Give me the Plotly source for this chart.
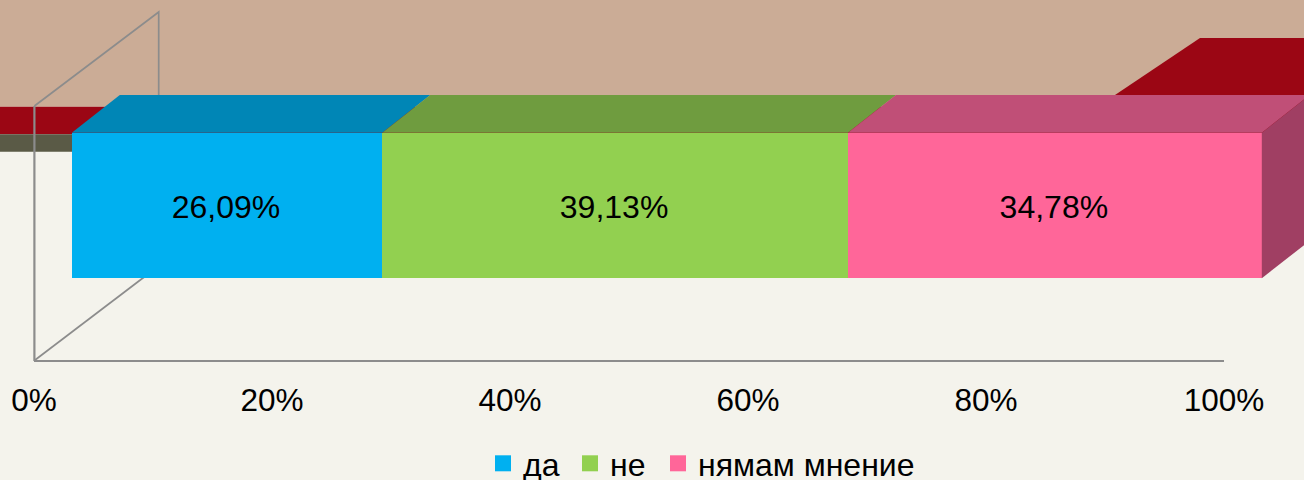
import plotly.graph_objects as go

categories = ["да", "не", "нямам мнение"]
values = [26.09, 39.13, 34.78]
labels = ["26,09%", "39,13%", "34,78%"]
tick_values = [0, 20, 40, 60, 80, 100]
tick_labels = ["0%", "20%", "40%", "60%", "80%", "100%"]
front_colors = ["#00B0F0", "#92D050", "#FF6699"]
top_colors = ["#0086B6", "#6F9C3F", "#C04F77"]
side_color = "#A03F63"

W, H = 1304, 480
FONT = "Liberation Sans, Arial, sans-serif"
CREAM, TAN, RED, OLIVE, WALL = "#F4F3EC", "#CBAC96", "#9B0614", "#5A5A46", "#8C8C8C"

# pixel scale of the value axis: 100% spans 1190 px; the bars sit 38 px right of the axis
PX_PER_PCT = 1190 / 100
BAR_PX0 = 71.8
BAR_PX_H = 145.6
BAR_CY = 205.5
DX = 48 / PX_PER_PCT   # depth of the 3D box in axis units
DY = 37.7 / BAR_PX_H
LABEL_DX = -1 / PX_PER_PCT
LABEL_DY = -4 / BAR_PX_H
LEGEND_PX = [483, 570, 658]


def px(x):
    return x / W


def py(y):
    return 1 - y / H


def poly(points, fill):
    path = "M" + " L".join(f"{px(x):.5f},{py(y):.5f}" for x, y in points) + " Z"
    return dict(type="path", xref="paper", yref="paper", path=path,
                fillcolor=fill, line=dict(width=0), layer="below")


def seg(points, width=1.7):
    path = "M" + " L".join(f"{px(x):.5f},{py(y):.5f}" for x, y in points)
    return dict(type="path", xref="paper", yref="paper", path=path,
                line=dict(color=WALL, width=width), layer="below")


shapes = [
    poly([(0, 0), (W, 0), (W, 106.7), (0, 106.7)], TAN),
    poly([(0, 106.7), (W, 106.7), (W, 134.3), (0, 134.3)], RED),
    poly([(0, 134.3), (W, 134.3), (W, 151.7), (0, 151.7)], OLIVE),
    poly([(1115, 95), (1200, 38), (W, 38), (W, 107), (1115, 107)], RED),
    seg([(34.4, 361), (34.4, 106)], width=2.2),
    seg([(34.4, 106), (158.7, 12), (158.7, 100)]),
    seg([(34.4, 360.5), (158.7, 266)]),
]

fig = go.Figure()

# legend entries, one legend per entry so each can sit where the reference has it
legend_ids = ["legend", "legend2", "legend3"]
for name, color, lid in zip(categories, front_colors, legend_ids):
    fig.add_trace(go.Scatter(x=[None], y=[None], mode="markers", name=name,
                             marker=dict(symbol="square", size=17, color=color),
                             xaxis="x", yaxis="y", hoverinfo="skip", legend=lid))

# 3D faces derived from the stacked values
cum = 0
top = 0.5
for v, tc in zip(values, top_colors):
    x0, x1 = cum, cum + v
    fig.add_trace(go.Scatter(x=[x0, x1, x1 + DX, x0 + DX, x0],
                             y=[top, top, top + DY, top + DY, top],
                             xaxis="x2", yaxis="y2", mode="lines", fill="toself",
                             fillcolor=tc, line=dict(width=0), showlegend=False,
                             hoverinfo="skip"))
    cum = x1
fig.add_trace(go.Scatter(x=[cum, cum + DX, cum + DX, cum, cum],
                         y=[top, top + DY, -top + DY, -top, top],
                         xaxis="x2", yaxis="y2", mode="lines", fill="toself",
                         fillcolor=side_color, line=dict(width=0), showlegend=False,
                         hoverinfo="skip"))

# front faces
for name, v, color in zip(categories, values, front_colors):
    fig.add_trace(go.Bar(x=[v], y=[0], orientation="h", width=1, name=name,
                         marker=dict(color=color, line=dict(width=0)),
                         xaxis="x2", yaxis="y2", showlegend=False))

# value labels, centred on each stacked segment
centers = [sum(values[:i]) + values[i] / 2 + LABEL_DX for i in range(len(values))]
fig.add_trace(go.Scatter(x=centers, y=[LABEL_DY] * len(values), mode="text", text=labels,
                         textposition="middle center",
                         textfont=dict(family=FONT, size=32, color="#000000"),
                         xaxis="x2", yaxis="y2", showlegend=False, hoverinfo="skip"))


def legend_at(x_px):
    return dict(orientation="h", x=px(x_px), y=py(491), xanchor="left", yanchor="bottom",
                font=dict(family=FONT, size=32, color="#000000"),
                bgcolor="rgba(0,0,0,0)", borderwidth=0, itemclick=False, itemdoubleclick=False)


fig.update_layout(
    template="none",
    width=W, height=H, autosize=False,
    margin=dict(l=0, r=0, t=0, b=0, pad=0, autoexpand=False),
    paper_bgcolor=CREAM, plot_bgcolor="rgba(0,0,0,0)",
    barmode="stack", shapes=shapes,
    font=dict(family=FONT, color="#000000"),
    xaxis=dict(domain=[px(34), px(1224)], range=[0, 100], tickvals=tick_values,
               ticktext=tick_labels, tickfont=dict(family=FONT, size=31.5, color="#000000"),
               showgrid=False, zeroline=False, showline=True, linecolor=WALL, linewidth=2,
               ticks="", ticklabelstandoff=11, anchor="y", automargin=False,
               layer="below traces"),
    yaxis=dict(domain=[py(360), py(106)], range=[0, 1], showgrid=False, zeroline=False,
               showline=False, showticklabels=False, ticks="",
               anchor="x", automargin=False),
    xaxis2=dict(domain=[0, 1], range=[-BAR_PX0 / PX_PER_PCT, (W - BAR_PX0) / PX_PER_PCT],
                visible=False, anchor="y2"),
    yaxis2=dict(domain=[0, 1], range=[(BAR_CY - H) / BAR_PX_H, BAR_CY / BAR_PX_H],
                visible=False, anchor="x2"),
    legend=legend_at(LEGEND_PX[0]),
    legend2=legend_at(LEGEND_PX[1]),
    legend3=legend_at(LEGEND_PX[2]),
    showlegend=True,
    hovermode=False,
)

fig.write_html("out.html", config=dict(displayModeBar=False),
               post_script="document.body.style.margin='0';document.body.style.overflow='hidden';")
